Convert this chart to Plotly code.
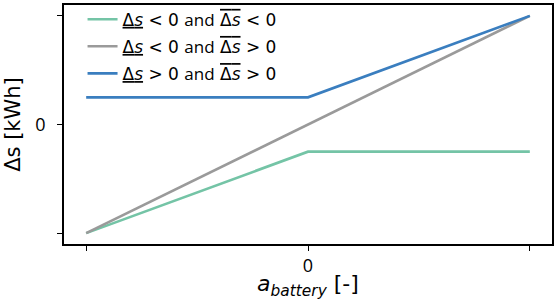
import plotly.graph_objects as go

# Data
a_battery = [-1, 0, 1]
ds_neg_neg = [-1, -0.25, -0.25]   # Δs_ < 0 and Δs¯ < 0
ds_neg_pos = [-1, 0, 1]           # Δs_ < 0 and Δs¯ > 0
ds_pos_pos = [0.25, 0.25, 1]      # Δs_ > 0 and Δs¯ > 0
x_tickvals = [-1, 0, 1]
x_ticktext = ["", "0", ""]
y_tickvals = [-1, 0, 1]
y_ticktext = ["", "0", ""]

OL = '<span style="text-decoration:overline">Δ<i>s</i></span>'
UL = '<u>Δ<i>s</i></u>'
AND = '<span style="font-family:Open Sans">and</span>'
names = [
    f"{UL} < 0 {AND} {OL} < 0",
    f"{UL} < 0 {AND} {OL} > 0",
    f"{UL} > 0 {AND} {OL} > 0",
]
colors = ["#74c4a6", "#9a9a9a", "#3a7ebf"]
series = [ds_neg_neg, ds_neg_pos, ds_pos_pos]

fig = go.Figure()
for i, (ys, nm, c) in enumerate(zip(series, names, colors)):
    fig.add_trace(go.Scatter(x=a_battery, y=ys, mode="lines", name=nm,
                             legendgroup=f"g{i}",
                             line=dict(color=c, width=2.6)))

fig.update_layout(
    width=556, height=300,
    margin=dict(l=64, r=2, t=2, b=56),
    plot_bgcolor="white", paper_bgcolor="white",
    font=dict(family="DejaVu Sans", color="black", size=14),
    showlegend=True,
    legend=dict(x=0.038, y=1.014, xanchor="left", yanchor="top",
                bgcolor="rgba(0,0,0,0)", borderwidth=0,
                font=dict(family="DejaVu Sans", size=17),
                tracegroupgap=2, itemwidth=30, traceorder="grouped"),
)
fig.update_xaxes(range=[-1.1, 1.1], tickvals=x_tickvals, ticktext=x_ticktext,
                 ticks="outside", ticklen=5, tickwidth=1.2, tickcolor="black",
                 showline=True, linecolor="black", linewidth=1.5, mirror=True,
                 showgrid=False, zeroline=False,
                 tickfont=dict(family="Open Sans", size=18),
                 title=dict(text="<i>a</i><sub><i>battery</i></sub> [-]",
                            font=dict(family="DejaVu Sans", size=22), standoff=0))
fig.update_yaxes(range=[-1.1, 1.1], tickvals=y_tickvals, ticktext=y_ticktext,
                 ticks="outside", ticklen=5, tickwidth=1.2, tickcolor="black",
                 showline=True, linecolor="black", linewidth=1.5, mirror=True,
                 showgrid=False, zeroline=False, ticklabelstandoff=8,
                 tickfont=dict(family="Open Sans", size=18),
                 title=dict(text="Δs [kWh]", font=dict(family="DejaVu Sans", size=21),
                            standoff=9))

fig.write_html("out.html", config={"displayModeBar": False},
               post_script="document.body.style.margin='0';")
